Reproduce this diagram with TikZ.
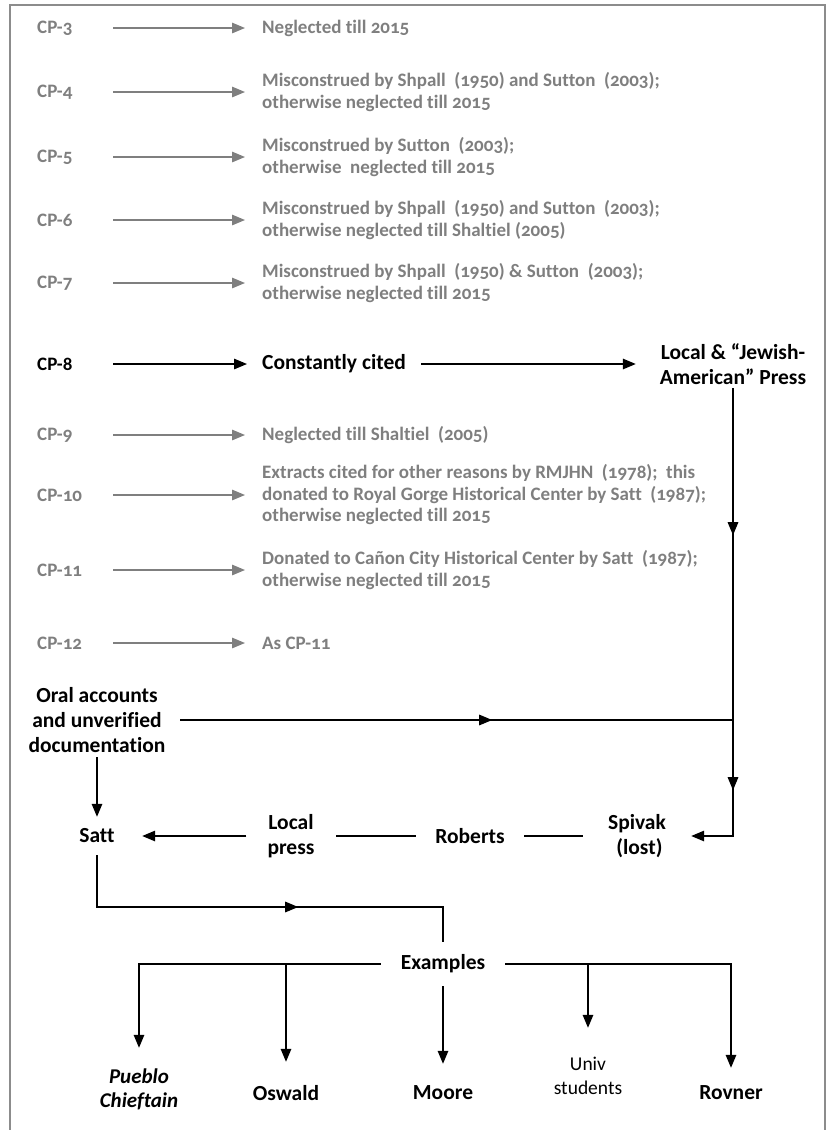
\documentclass[tikz,border=0pt]{standalone}
\usepackage{fontspec}
\setmainfont{Carlito}[Numbers=OldStyle, Ligatures=NoCommon]
\usetikzlibrary{arrows.meta,decorations.markings}
\definecolor{txtgray}{HTML}{7F7F7F}
\definecolor{bordergray}{HTML}{8C8C8C}
\begin{document}
\begin{tikzpicture}[x=1pt,y=-1pt,
  >={Triangle[length=13pt,width=10.5pt]},
  every node/.style={font=\fontsize{19}{21.5}\selectfont\bfseries},
  cplabel/.style={anchor=west, inner sep=0pt, text width=76pt, align=left, text=txtgray},
  cptext/.style={anchor=west, inner xsep=17pt, inner ysep=0pt, align=left, text=txtgray},
  garrow/.style={draw=txtgray, line width=1.4pt, -{Triangle[length=13pt,width=10.5pt]}},
  bline/.style={draw=black, line width=1.4pt},
  barrow/.style={bline, ->},
  onemid/.style={postaction={decorate}, decoration={markings, mark=at position #1 with {\arrow{>}}}},
  blk/.style={align=center, inner sep=0pt, text=black, font=\fontsize{21.5}{25}\selectfont\bfseries},
]
\useasboundingbox (0,0) rectangle (831,1130);
\draw[bordergray, line width=2pt] (10,1130) -- (10,5) -- (825,5) -- (825,1130);

% grey rows
\node[cplabel] (cp3) at (37,28) {CP-3};
\node[cptext] (t3) at (245,28) {Neglected till 2015};
\draw[garrow] (cp3.east) -- (t3.west);

\node[cplabel] (cp4) at (37,92) {CP-4};
\node[cptext] (t4) at (245,92) {Misconstrued by Shpall~ (1950) and Sutton~ (2003);\\otherwise neglected till 2015};
\draw[garrow] (cp4.east) -- (t4.west);

\node[cplabel] (cp5) at (37,157) {CP-5};
\node[cptext] (t5) at (245,157) {Misconstrued by Sutton~ (2003);\\otherwise~ neglected till 2015};
\draw[garrow] (cp5.east) -- (t5.west);

\node[cplabel] (cp6) at (37,220) {CP-6};
\node[cptext] (t6) at (245,220) {Misconstrued by Shpall~ (1950) and Sutton~ (2003);\\otherwise neglected till Shaltiel (2005)};
\draw[garrow] (cp6.east) -- (t6.west);

\node[cplabel] (cp7) at (37,283) {CP-7};
\node[cptext] (t7) at (245,283) {Misconstrued by Shpall~ (1950) \& Sutton~ (2003);\\otherwise neglected till 2015};
\draw[garrow] (cp7.east) -- (t7.west);

\node[cplabel] (cp9) at (37,435) {CP-9};
\node[cptext] (t9) at (245,435) {Neglected till Shaltiel~ (2005)};
\draw[garrow] (cp9.east) -- (t9.west);

\node[cplabel] (cp10) at (37,495) {CP-10};
\node[cptext] (t10) at (245,495) {Extracts cited for other reasons by RMJHN~ (1978);~ this\\donated to Royal Gorge Historical Center by Satt~ (1987);\\otherwise neglected till 2015};
\draw[garrow] (cp10.east) -- (t10.west);

\node[cplabel] (cp11) at (37,570) {CP-11};
\node[cptext] (t11) at (245,570) {Donated to Cañon City Historical Center by Satt~ (1987);\\otherwise neglected till 2015};
\draw[garrow] (cp11.east) -- (t11.west);

\node[cplabel] (cp12) at (37,643) {CP-12};
\node[cptext] (t12) at (245,643) {As CP-11};
\draw[garrow] (cp12.east) -- (t12.west);

% CP-8 row
\node[cplabel, text=black] (cp8) at (37,364) {CP-8};
\node[cptext, text=black, inner xsep=15pt, font=\fontsize{21.5}{25}\selectfont\bfseries] (cited) at (247,364) {Constantly cited};
\draw[barrow] (cp8.east) -- (cited.west);
\node[blk, minimum width=194pt, minimum height=48pt] (press) at (733,364) {Local \& “Jewish-\\American” Press};
\draw[barrow] (cited.east) -- (cited.east -| press.west);

% middle
\node[blk, minimum width=166pt, minimum height=74pt] (oral) at (97,720) {Oral accounts\\and unverified\\documentation};
\node[blk, minimum width=90pt, minimum height=38pt] (satt) at (97,836) {Satt};
\node[blk, minimum width=89pt, minimum height=50pt] (lpress) at (291,836) {Local\\press};
\node[blk, minimum width=108pt, minimum height=30pt] (roberts) at (470,836) {Roberts};
\node[blk, minimum width=108pt, minimum height=50pt] (spivak) at (637,836) {Spivak\\~(lost)};

\draw[barrow, postaction={decorate}, decoration={markings,
   mark=at position 147pt with {\arrow{>}},
   mark=at position 402pt with {\arrow{>}}}]
   (press.south) |- (spivak.east);
\draw[bline, onemid=312pt] (oral.east) -- (oral.east -| press.south);
\draw[barrow] (oral.south) -- (satt.north);
\draw[bline] (spivak.west) -- (roberts.east);
\draw[bline] (roberts.west) -- (lpress.east);
\draw[barrow] (lpress.west) -- (satt.east);

% examples
\node[blk, minimum width=124pt, minimum height=44pt] (examples) at (443,964) {Examples};
\coordinate (bendc) at (270,907);
\draw[bline, onemid=253pt] (satt.south) |- (bendc) -| (examples.north);

\node[blk, minimum height=82pt, font=\fontsize{21}{24}\selectfont\bfseries\itshape] (pueblo) at (139,1089) {Pueblo\\Chieftain};
\node[blk, minimum height=62pt] (oswald) at (286,1093) {Oswald};
\node[blk, minimum height=58pt] (moore) at (443,1093) {Moore};
\node[blk, minimum height=96pt, font=\fontsize{19.5}{24}\selectfont] (univ) at (588,1076) {Univ\\students};
\node[blk, minimum height=50pt] (rovner) at (731,1093) {Rovner};

\draw[barrow] (examples.west) -| (pueblo.north);
\draw[barrow] (oswald.north |- examples.west) -- (oswald.north);
\draw[barrow] (examples.south) -- (moore.north);
\draw[barrow] (examples.east) -| (rovner.north);
\draw[barrow] (univ.north |- examples.east) -- (univ.north);
\end{tikzpicture}
\end{document}
